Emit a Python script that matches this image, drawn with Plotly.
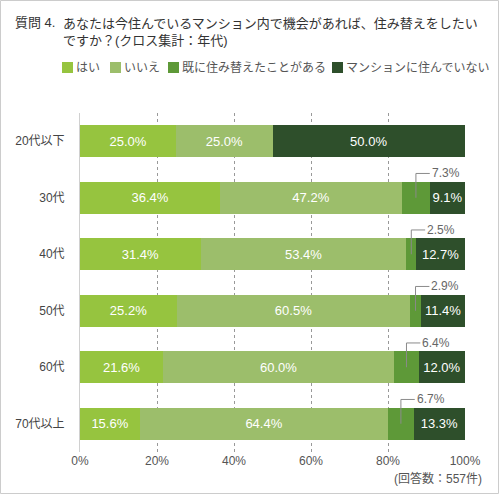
import plotly.graph_objects as go

# 年代別の回答割合（%）
AGE_GROUPS = ["20代以下", "30代", "40代", "50代", "60代", "70代以上"]
SERIES_NAMES = ["はい", "いいえ", "既に住み替えたことがある", "マンションに住んでいない"]
YES = [25.0, 36.4, 31.4, 25.2, 21.6, 15.6]
NO = [25.0, 47.2, 53.4, 60.5, 60.0, 64.4]
ALREADY_MOVED = [0.0, 7.3, 2.5, 2.9, 6.4, 6.7]
NOT_LIVING = [50.0, 9.1, 12.7, 11.4, 12.0, 13.3]
X_TICKS = [0, 20, 40, 60, 80, 100]
X_TICK_LABELS = ["0%", "20%", "40%", "60%", "80%", "100%"]

COLORS = ["#96C43F", "#9CBE6B", "#5E9938", "#2E4F2B"]
FONT = "Liberation Sans, Arial, Noto Sans CJK JP, sans-serif"

W, H = 500, 495
L, R, T, B = 80, 35, 113, 43
PW, PH = W - L - R, H - T - B


def px_x(p):
    return (p - L) / PW


def px_y(p):
    return (H - B - p) / PH


series = [YES, NO, ALREADY_MOVED, NOT_LIVING]

fig = go.Figure()
for i, (name, vals) in enumerate(zip(SERIES_NAMES, series)):
    if i == 2:
        texts = ["" for _ in vals]
    else:
        texts = [f"{v:.1f}%" if v > 0 else "" for v in vals]
    fig.add_trace(go.Bar(
        x=vals,
        y=AGE_GROUPS,
        name=name,
        orientation="h",
        marker=dict(color=COLORS[i], line=dict(width=0)),
        text=texts,
        textposition="inside",
        insidetextanchor="middle",
        textangle=0,
        constraintext="none",
        insidetextfont=dict(color="white", size=13, family=FONT),
        width=0.57,
        showlegend=False,
    ))

# 小さい値（既に住み替えたことがある）の引き出し線
for idx, (a, b, c) in enumerate(zip(YES, NO, ALREADY_MOVED)):
    if c <= 0:
        continue
    cx = a + b + c / 2
    ly = idx - 0.43
    fig.add_shape(type="line", xref="x", yref="y", x0=cx, x1=cx, y0=idx, y1=ly,
                  line=dict(color="#8a8a8a", width=1))
    fig.add_shape(type="line", xref="x", yref="y", x0=cx, x1=cx + 3.6, y0=ly, y1=ly,
                  line=dict(color="#8a8a8a", width=1))
    fig.add_annotation(x=cx + 3.6, y=ly, xref="x", yref="y", text=f"{c:.1f}%",
                       showarrow=False, xanchor="left", yanchor="middle",
                       font=dict(size=12, color="#666666", family=FONT))

# タイトル
fig.add_annotation(x=px_x(13), y=px_y(22), xref="paper", yref="paper", text="質問 4.",
                   showarrow=False, xanchor="left", yanchor="middle",
                   font=dict(size=13, color="#333333", family=FONT))
fig.add_annotation(x=px_x(61), y=px_y(31.5), xref="paper", yref="paper",
                   text="あなたは今住んでいるマンション内で機会があれば、住み替えをしたい<br>ですか？(クロス集計：年代)",
                   showarrow=False, xanchor="left", yanchor="middle", align="left",
                   font=dict(size=13, color="#333333", family=FONT))

# 凡例
legend_x = [62, 110, 168, 332]
for name, color, lx in zip(SERIES_NAMES, COLORS, legend_x):
    fig.add_shape(type="rect", xref="paper", yref="paper",
                  x0=px_x(lx), x1=px_x(lx + 11), y0=px_y(73), y1=px_y(62),
                  fillcolor=color, line=dict(width=0))
    fig.add_annotation(x=px_x(lx + 12), y=px_y(67.5), xref="paper", yref="paper", text=name,
                       showarrow=False, xanchor="left", yanchor="middle",
                       font=dict(size=12, color="#555555", family=FONT))

# 回答数
fig.add_annotation(x=px_x(484), y=px_y(478), xref="paper", yref="paper", text="(回答数：557件)",
                   showarrow=False, xanchor="right", yanchor="middle",
                   font=dict(size=12, color="#555555", family=FONT))

# 外枠
fig.add_shape(type="rect", xref="paper", yref="paper",
              x0=px_x(0.5), x1=px_x(498.5), y0=px_y(493.5), y1=px_y(0.5),
              line=dict(color="#cccccc", width=1), fillcolor="rgba(0,0,0,0)", layer="below")

fig.update_layout(
    barmode="stack",
    width=W,
    height=H,
    margin=dict(l=L, r=R, t=T, b=B),
    plot_bgcolor="white",
    paper_bgcolor="white",
    font=dict(family=FONT, size=12, color="#555555"),
    showlegend=False,
)

fig.update_xaxes(
    range=[0, 100],
    tickmode="array",
    tickvals=X_TICKS,
    ticktext=X_TICK_LABELS,
    showgrid=True,
    gridcolor="#999999",
    griddash="dot",
    gridwidth=1,
    zeroline=False,
    showline=False,
    ticks="",
    tickfont=dict(size=12, color="#555555", family=FONT),
    fixedrange=True,
)

fig.update_yaxes(
    categoryorder="array",
    categoryarray=AGE_GROUPS,
    autorange="reversed",
    showgrid=False,
    showline=True,
    linecolor="#d0d0d0",
    linewidth=1,
    ticks="",
    ticklabelstandoff=12,
    tickfont=dict(size=12, color="#444444", family=FONT),
    fixedrange=True,
)

# ページ既定の余白を消して 500x495 にぴったり収める
fig.write_html(
    "out.html",
    config={"displayModeBar": False},
    post_script="document.body.style.margin='0';",
)
